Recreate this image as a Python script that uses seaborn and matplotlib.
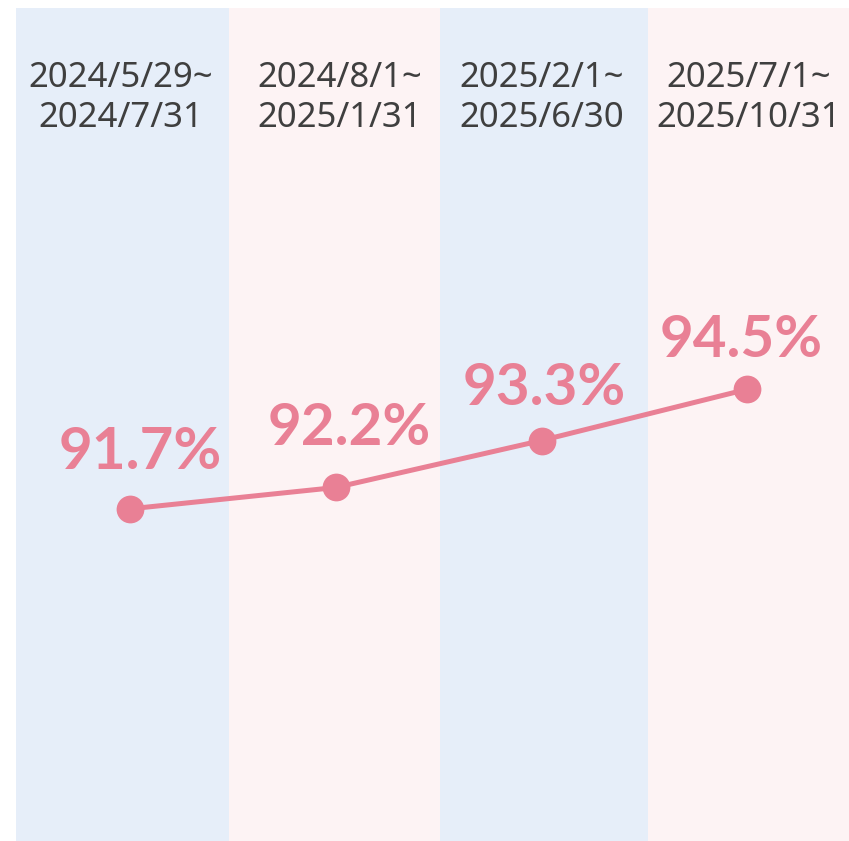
import matplotlib
matplotlib.use("Agg")
import matplotlib.pyplot as plt
import seaborn as sns
import pandas as pd

periods = ["2024/5/29~\n2024/7/31", "2024/8/1~\n2025/1/31", "2025/2/1~\n2025/6/30", "2025/7/1~\n2025/10/31"]
values = [91.7, 92.2, 93.3, 94.5]
value_labels = ["91.7%", "92.2%", "93.3%", "94.5%"]

df = pd.DataFrame({"idx": range(len(values)), "value": values})

sns.set_theme(style="white")
plt.rcParams["font.family"] = ["Lato", "DejaVu Sans"]

fig = plt.figure(figsize=(8.49, 8.41), dpi=100)
ax = fig.add_axes([16 / 849, 0, 833 / 849, 833 / 841])

line_color = "#E98095"
band_colors = ["#E6EEF9", "#FDF3F4"]

x_left, x_right = -0.555, 3.495
edges = [x_left, 0.48, 1.505, 2.52, x_right]
for i in range(len(values)):
    ax.axvspan(edges[i], edges[i + 1], color=band_colors[i % 2], lw=0, zorder=0)

sns.lineplot(data=df, x="idx", y="value", ax=ax, color=line_color, lw=3.6,
             marker="o", markersize=20, markeredgewidth=0, zorder=3)

# label offsets in pixels (dx, dy up)
label_offsets_px = [(10, 56), (13, 59), (3, 52), (-6, 49)]
px2pt = 72 / 100
for i, (v, lab) in enumerate(zip(values, value_labels)):
    dx, dy = label_offsets_px[i]
    ax.annotate(lab, (i, v), xytext=(dx * px2pt, dy * px2pt), textcoords="offset points",
                ha="center", va="center", fontsize=42, fontweight="bold",
                color=line_color, zorder=4)

date_dx_px = [-9, 4, 0, 1]
for i, p in enumerate(periods):
    ax.annotate(p, (i, 1 - 90 / 833), xycoords=("data", "axes fraction"),
                xytext=(date_dx_px[i] * px2pt, 0),
                textcoords="offset points",
                ha="center", va="center", fontsize=25, color="#3F3F3F",
                linespacing=1.2, family=["Noto Sans", "DejaVu Sans"], zorder=4)

ax.set_xlim(x_left, x_right)
ax.set_ylim(83.92, 103.43)
ax.set_xlabel("")
ax.set_ylabel("")
ax.set_xticks([])
ax.set_yticks([])
for s in ax.spines.values():
    s.set_visible(False)

fig.savefig("out.png", dpi=100, facecolor="white")
